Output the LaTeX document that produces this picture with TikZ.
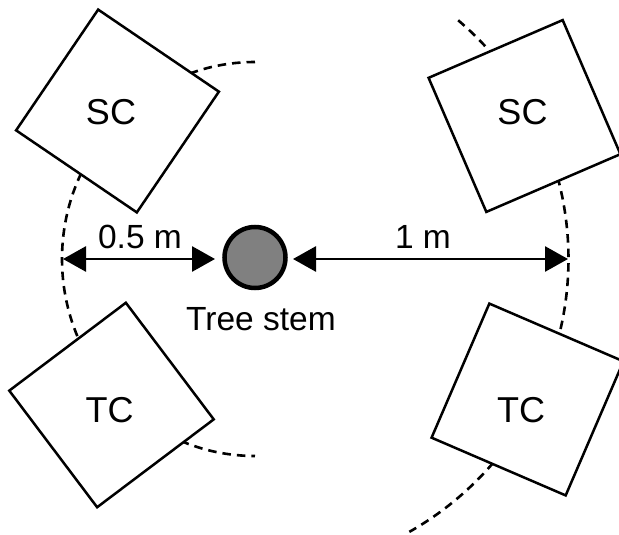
\documentclass[tikz,border=0pt]{standalone}
\usepackage{fontspec}
\setmainfont{Liberation Sans}
\usetikzlibrary{arrows.meta}
\begin{document}
\begin{tikzpicture}[x=1pt,y=1pt,
  chamber/.style={draw, line width=2.5pt, fill=white, shape=rectangle,
                  minimum size=146pt, inner sep=0pt},
  chamberlabel/.style={font=\fontsize{36}{40}\selectfont, inner sep=0pt},
  dimtext/.style={font=\fontsize{33.5}{38}\selectfont, inner sep=0pt, anchor=base},
  ringline/.style={line width=2.6pt, dash pattern=on 8.5pt off 6pt},
  dimline/.style={line width=2.8pt,
    arrows={Triangle[length=23pt,width=25pt]-Triangle[length=23pt,width=25pt]}},
  stemdisc/.style={draw, circle, line width=4.5pt, fill=gray, minimum size=61pt, inner sep=0pt}]

  % page frame
  \useasboundingbox (0,0) rectangle (619,-535);
  \clip (0,0) rectangle (619,-535);

  % distance rings around the stem (0.5 m and 1 m)
  \coordinate (ctr) at (255,-259);
  \draw[ringline] (ctr) ++(90:193 and 197)
    arc[start angle=90, end angle=270, x radius=193, y radius=197];
  \draw[ringline] (ctr) ++(49.6:313.5)
    arc[start angle=49.6, end angle=-60.5, radius=313.5];

  % collars
  \node[chamber, rotate=-34.2] (sc1) at (117.5,-111) {};
  \node[chamber, rotate=37]    (tc1) at (111.5,-405) {};
  \node[chamber, rotate=23.3]  (sc2) at (524.5,-116) {};
  \node[chamber, rotate=-23.3] (tc2) at (527.5,-399.5) {};
  \node[chamberlabel] (sc1t) at (111,-112.5) {SC};
  \node[chamberlabel] (tc1t) at (109.5,-410) {TC};
  \node[chamberlabel] (sc2t) at (522.5,-112.5) {SC};
  \node[chamberlabel] (tc2t) at (521,-410.5) {TC};

  % tree stem
  \node[stemdisc] (stem) at (255,-257.5) {};
  \node[dimtext] (stemlbl) at (261,-330) {Tree stem};

  % distance arrows
  \coordinate (lend) at (63,-259);
  \coordinate (rend) at (568,-259);
  \draw[dimline, shorten >=7.25pt] (lend) -- (stem.west |- lend);
  \draw[dimline, shorten <=5.25pt] (stem.east |- rend) -- (rend);
  \node[dimtext] (half) at (140,-248) {0.5 m};
  \node[dimtext] (one) at (423,-248) {1 m};
\end{tikzpicture}
\end{document}
